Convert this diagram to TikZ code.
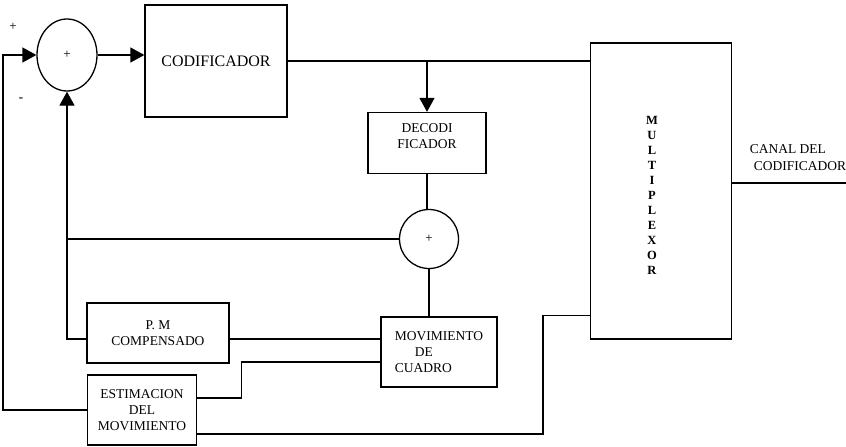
\documentclass[tikz,border=0pt]{standalone}
\usepackage{fontspec}
\setmainfont{Liberation Serif}
\usepackage{tikz}
\usetikzlibrary{calc,shapes.geometric,arrows.meta}

\begin{document}
\begin{tikzpicture}[x=1pt,y=-1pt,line width=1.3pt,
  blk/.style={draw,rectangle,inner sep=0pt,align=center,
    font=\fontsize{13.5}{16}\selectfont},
  sumnode/.style={draw,ellipse,inner sep=0pt,font=\fontsize{13}{13}\selectfont},
  arr/.style={-{Triangle[length=14pt,width=15pt]}}]

\useasboundingbox (0,0) rectangle (846,447);

\node [sumnode,minimum width=60pt,minimum height=72pt] (S1) at (67,55) {+};
\node [blk,minimum width=142pt,minimum height=112pt,
       font=\fontsize{16}{18}\selectfont] (COD) at (216,61) {CODIFICADOR};
\node [blk,minimum width=118pt,minimum height=61pt,
       label={[name=DECTXT,align=center,yshift=7pt,font=\fontsize{13.5}{16}\selectfont]center:DECODI\\FICADOR}]
      (DEC) at (427,143) {};
\node [sumnode,minimum width=59pt,minimum height=59pt] (S2) at (429,239) {+};
\node [blk,minimum width=116pt,minimum height=70pt,align=left] (MOV) at (439,352)
      {MOVIMIENTO\\\hspace*{20pt}DE\\CUADRO};
\node [blk,minimum width=142pt,minimum height=60pt] (PM) at (158,333) {P. M\\COMPENSADO};
\node [blk,minimum width=109pt,minimum height=70pt] (EST) at (142,410)
      {ESTIMACION\\DEL\\MOVIMIENTO};
\node [blk,minimum width=141pt,minimum height=296pt] (MUX) at (661,191) {};
\node [align=center,font=\fontsize{12.5}{15}\bfseries] (MUXTXT) at (652,195)
      {M\\U\\L\\T\\I\\P\\L\\E\\X\\O\\R};

\node [font=\fontsize{13}{13}\selectfont] (PLUS) at (13,27) {+};
\node [font=\fontsize{13}{13}\bfseries] (MINUS) at (21,100) {-};
\node [align=left,font=\fontsize{13.5}{17}\selectfont] (CANAL) at (798,158)
      {CANAL DEL\\\hspace*{4pt}CODIFICADOR};
\coordinate (OUT) at (846,183);

% camino directo
\draw [arr] (S1.east) -- (S1.east -| COD.west);
\draw (COD.east) -- (COD.east -| MUX.west);
\draw [arr] (COD.east -| DEC.north) -- (DEC.north);
\draw (DEC.south) -- (DEC.south |- S2.north);
\draw (S2.south) -- (S2.south |- MOV.north);

% realimentacion
\draw (S2.west) -- (S2.west -| S1.south);
\draw [arr] ($ (PM.west) + (0,6) $) -| (S1.south);
\draw ($ (PM.east) + (0,6) $) -- ($ (MOV.west) + (0,-13) $);
\draw ($ (EST.east) + (0,-12) $) -- +(44,0) |- ($ (MOV.west) + (0,10) $);
\draw [arr] (EST.west) -- +(-84,0) |- (S1.west);

% vectores de movimiento
\draw ($ (EST.east) + (0,24) $)
-| ($ (MUX.south west) + (-47,-24) $)
-- ($ (MUX.south west) + (0,-24) $);

\draw ($ (MUX.east) + (0,-8) $) -- (OUT);

\end{tikzpicture}
\end{document}
